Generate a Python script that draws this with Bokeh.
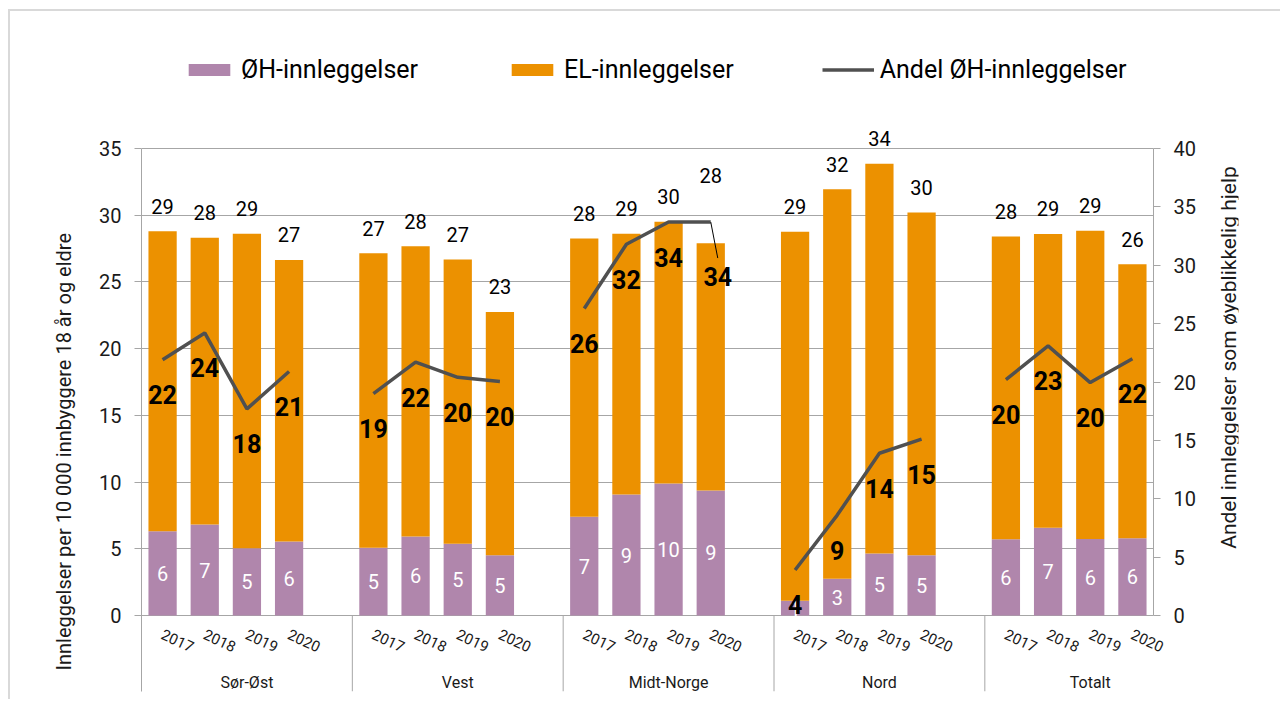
import math
import numpy as np
from bokeh.plotting import figure
from bokeh.models import (ColumnDataSource, Range1d, LinearAxis, FixedTicker,
                          Legend, LegendItem, LabelSet, Title)
from bokeh.core.properties import value
from bokeh.embed import file_html
from bokeh.resources import INLINE

# ---------------- data ----------------
regions = ["Sør-Øst", "Vest", "Midt-Norge", "Nord", "Totalt"]
years = ["2017", "2018", "2019", "2020"]
oh_innleggelser = [6.32, 6.82, 5.04, 5.54,
                   5.07, 5.93, 5.38, 4.52,
                   7.40, 9.06, 9.89, 9.37,
                   1.11, 2.75, 4.65, 4.52,
                   5.71, 6.57, 5.74, 5.79]
el_innleggelser = [22.48, 21.50, 23.58, 21.11,
                   22.08, 21.75, 21.30, 18.23,
                   20.86, 19.56, 19.62, 18.53,
                   27.65, 29.20, 29.21, 25.68,
                   22.69, 22.03, 23.10, 20.53]
andel_oh = [21.9, 24.2, 17.7, 20.9,
            19.0, 21.7, 20.4, 20.05,
            26.3, 31.8, 33.7, 33.7,
            3.9, 8.6, 13.9, 15.1,
            20.2, 23.1, 19.95, 22.0]
left_ticks = [0, 5, 10, 15, 20, 25, 30, 35]
right_ticks = [0, 5, 10, 15, 20, 25, 30, 35, 40]
left_title = "Innleggelser per 10 000  innbyggere 18 år og eldre"
right_title = "Andel innleggelser som øyeblikkelig hjelp"

# ---------------- style / layout ----------------
FONT = "Roboto"
PURPLE = "#B086AC"
ORANGE = "#EC9100"
LINE = "#505050"
GRID = "#A6A6A6"
TEXT = "#1A1A1A"

CX, CY = 10, 11                 # canvas origin on the page
W, H = 1272, 690
FRAME_L, FRAME_R = 141, 1238
AXIS_R = 1153                   # x of right value axis
ZERO_Y, TOP_Y, FRAME_B = 615, 148, 691
FRAME_T = CY
RT_X, RT_Y = 1228, 357          # centre of right axis title
ML = FRAME_L - CX
MR = CX + W - FRAME_R
MT = FRAME_T - CY
MB = CY + H - FRAME_B

LEFT_MAX = left_ticks[-1]
RIGHT_MAX = right_ticks[-1]
left_ppu = (ZERO_Y - TOP_Y) / LEFT_MAX
right_ppu = (ZERO_Y - TOP_Y) / RIGHT_MAX

n_groups = len(regions)
n_years = len(years)
slot = n_years + 1
n_slots = n_groups * slot - 1
slot_px = (AXIS_R - FRAME_L) / n_slots

y_start = -(FRAME_B - ZERO_Y) / left_ppu
y_end = (ZERO_Y - FRAME_T) / left_ppu
yr_start = -(FRAME_B - ZERO_Y) / right_ppu
yr_end = (ZERO_Y - FRAME_T) / right_ppu
x_end = (FRAME_R - FRAME_L) / slot_px

xs = [g * slot + j + 0.5 for g in range(n_groups) for j in range(n_years)]
totals = [a + b for a, b in zip(oh_innleggelser, el_innleggelser)]
special = regions.index("Midt-Norge") * n_years + 3

tot_off = [25] * len(xs)
tot_off[special] = 68
ay_off = [35] * len(xs)
ay_off[special] = 54
ax_off = [0] * len(xs)
ax_off[special] = 7

src = ColumnDataSource(dict(
    x=xs,
    oh=oh_innleggelser,
    el=el_innleggelser,
    total=totals,
    oh_mid=[v / 2 for v in oh_innleggelser],
    andel=andel_oh,
    total_lbl=[str(int(round(v))) for v in totals],
    oh_lbl=[str(int(round(v))) for v in oh_innleggelser],
    andel_lbl=[str(int(round(v))) for v in andel_oh],
    year=[y for _ in regions for y in years],
    tot_off=tot_off,
    ay_off=ay_off,
    ax_off=ax_off,
))

p = figure(width=W, height=H, output_backend="svg", toolbar_location=None,
           x_range=Range1d(0, x_end), y_range=Range1d(y_start, y_end),
           x_axis_location=None, min_border_left=ML, min_border_right=MR,
           min_border_top=MT, min_border_bottom=MB)
p.extra_y_ranges = {"right": Range1d(yr_start, yr_end)}
p.outline_line_color = None
p.background_fill_color = "white"
p.border_fill_color = "white"
p.styles = {"margin-left": "8px", "margin-top": "9px",
            "border-top": "2px solid #D9D9D9", "border-left": "2px solid #D9D9D9"}

p.xgrid.visible = False
p.ygrid.ticker = FixedTicker(ticks=left_ticks)
p.ygrid.grid_line_color = GRID
p.ygrid.grid_line_width = 1
p.ygrid.cross_bounds = (0, n_slots)

ya = p.yaxis[0]
ya.ticker = FixedTicker(ticks=left_ticks)
ya.bounds = (y_start, LEFT_MAX)
ya.axis_line_color = GRID
ya.major_tick_line_color = GRID
ya.major_tick_out = 7
ya.major_tick_in = 0
ya.minor_tick_line_color = None
ya.major_label_text_font = FONT
ya.major_label_text_font_size = "20px"
ya.major_label_text_color = TEXT
ya.major_label_standoff = 13

ra = LinearAxis(y_range_name="right", ticker=FixedTicker(ticks=right_ticks),
                fixed_location=n_slots, bounds=(0, RIGHT_MAX))
ra.axis_line_color = GRID
ra.major_tick_line_color = GRID
ra.major_tick_out = 7
ra.major_tick_in = 0
ra.minor_tick_line_color = None
ra.major_label_text_font = FONT
ra.major_label_text_font_size = "20px"
ra.major_label_text_color = TEXT
ra.major_label_standoff = 13
p.add_layout(ra, "right")

# left axis title
p.add_layout(Title(text=left_title, align="left", offset=21, standoff=42,
                   text_font=FONT, text_font_size="20px", text_font_style="normal",
                   text_color=TEXT), "left")

# right axis title (reads bottom to top)
p.text(x=[(RT_X - FRAME_L) / slot_px], y=[(ZERO_Y - RT_Y) / left_ppu], text=[right_title],
       angle=math.pi / 2, text_color=TEXT, text_font=value(FONT), text_font_size="21px",
       text_align="center", text_baseline="middle")

# group separators under the axis
sep_x = [g * slot for g in range(1, n_groups)]
p.segment(x0=sep_x, y0=[0] * len(sep_x), x1=sep_x, y1=[y_start] * len(sep_x),
          line_color=GRID, line_width=1)

# bars
bars = p.vbar_stack(["oh", "el"], x="x", width=0.67, source=src,
                    fill_color=[PURPLE, ORANGE], line_color=None)

# line with breaks between regions
lx, ly = [], []
for g in range(n_groups):
    for j in range(n_years):
        k = g * n_years + j
        lx.append(xs[k])
        ly.append(andel_oh[k])
    lx.append(np.nan)
    ly.append(np.nan)
line = p.line(lx, ly, y_range_name="right", line_color=LINE, line_width=3.5)

# leader line for moved label
p.segment(x0=[xs[special]], y0=[andel_oh[special]],
          x1=[xs[special] + 7 / slot_px], y1=[andel_oh[special] - 36 / right_ppu],
          y_range_name="right", line_color="black", line_width=1)

# white ØH labels
p.text(x="x", y="oh_mid", text="oh_lbl", source=src, text_color="white",
       text_font=value(FONT), text_font_size="20px",
       text_align="center", text_baseline="middle")

# bold share labels
p.text(x="x", y="andel", text="andel_lbl", source=src, y_range_name="right",
       x_offset="ax_off", y_offset="ay_off", text_color="black",
       text_font=value(FONT), text_font_style="bold", text_font_size="25px",
       text_align="center", text_baseline="middle")

# totals above bars
tot_labels = LabelSet(x="x", y="total", text="total_lbl", source=src,
                      y_offset="tot_off", text_color="black",
                      text_font=value(FONT), text_font_size="20px",
                      text_align="center", text_baseline="middle")
p.add_layout(tot_labels)

# year labels
p.text(x="x", y=-25 / left_ppu, text="year", source=src, x_offset=15,
       angle=-25 * math.pi / 180, text_color=TEXT,
       text_font=value(FONT), text_font_size="15px",
       text_align="center", text_baseline="middle")

# region labels
gsrc = ColumnDataSource(dict(x=[g * slot + 2.5 for g in range(n_groups)], name=regions))
p.text(x="x", y=-66.5 / left_ppu, text="name", source=gsrc, text_color=TEXT,
       text_font=value(FONT), text_font_size="16px",
       text_align="center", text_baseline="middle")

legend = Legend(items=[LegendItem(label="ØH-innleggelser", renderers=[bars[0]]),
                       LegendItem(label="EL-innleggelser", renderers=[bars[1]]),
                       LegendItem(label="Andel ØH-innleggelser", renderers=[line])],
                orientation="horizontal", location=(42, 607),
                glyph_width=52, glyph_height=15, label_standoff=6, spacing=88,
                padding=0, margin=0, border_line_color=None, background_fill_alpha=0,
                label_text_font=FONT, label_text_font_size="25px", label_text_color="black")
p.add_layout(legend)

open("out.html", "w").write(file_html(p, INLINE))
